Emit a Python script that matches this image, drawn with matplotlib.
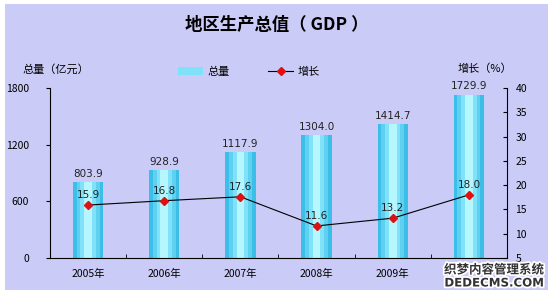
import numpy as np
import matplotlib.pyplot as plt
import matplotlib.patheffects as pe
from matplotlib.lines import Line2D
from matplotlib.patches import Rectangle

plt.rcParams['font.family'] = ['Noto Sans CJK SC', 'DejaVu Sans']

years = ["2005年", "2006年", "2007年", "2008年", "2009年", "2010年"]
gdp = [803.9, 928.9, 1117.9, 1304.0, 1414.7, 1729.9]
growth = [15.9, 16.8, 17.6, 11.6, 13.2, 18.0]

bg = "#cbcbf7"
fig = plt.figure(figsize=(5.53, 2.96), dpi=100)
fig.patch.set_facecolor("white")
fig.patches.append(Rectangle((5 / 553, 6 / 296), 543 / 553, 286 / 296,
                             transform=fig.transFigure, facecolor=bg,
                             edgecolor="none", zorder=-10))

ax = fig.add_axes([50 / 553, 38 / 296, 457 / 553, 170 / 296])
ax.set_facecolor("none")
x = np.arange(len(years))

# bars with a stripy cyan gradient
stripes = [(0.40, "#3bbfe8"), (0.30, "#5fd0f0"), (0.20, "#7fe2f8"), (0.10, "#b5f6ff")]
for w, c in stripes:
    ax.bar(x, gdp, width=w, color=c, edgecolor="none", zorder=2)

for xi, v in zip(x, gdp):
    ax.text(xi, v + 35, f"{v:.1f}", ha="center", va="bottom", fontsize=7.5,
            color="#222222", family="DejaVu Sans")

ax.set_xlim(-0.5, len(years) - 0.5)
ax.set_ylim(0, 1800)
ax.set_yticks([0, 600, 1200, 1800])
ax.set_xticks(x)
ax.set_xticklabels(years, fontsize=7.5)
# last year label sits under the watermark in the original
ax.get_xticklabels()[-1].set_visible(False)
ax.set_xticks(np.arange(-0.5, len(years), 1), minor=True)
ax.tick_params(axis="x", which="major", length=0, pad=8)
ax.tick_params(axis="x", which="minor", length=3, direction="in")
ax.tick_params(axis="y", length=3, direction="out", labelsize=7.5, pad=12)
for s in ["top", "right"]:
    ax.spines[s].set_visible(False)
ax.spines["left"].set_linewidth(0.8)
ax.spines["bottom"].set_linewidth(0.8)

ax2 = ax.twinx()
ax2.plot(x, growth, color="black", lw=0.8, marker="D", ms=4.5,
         mfc="#e01010", mec="#e01010", zorder=5)
for xi, v in zip(x, growth):
    ax2.text(xi, v + 1.0, f"{v:.1f}", ha="center", va="bottom", fontsize=7.5,
             color="#222222", family="DejaVu Sans")
ax2.set_ylim(5, 40)
ax2.set_yticks(np.arange(5, 41, 5))
ax2.tick_params(axis="y", length=3, direction="in", labelsize=7.5, pad=6)
for s in ["top", "left", "bottom"]:
    ax2.spines[s].set_visible(False)
ax2.spines["right"].set_linewidth(0.8)

fig.text(0.5, 0.915, "地区生产总值（ GDP ）", ha="center", va="center",
         fontsize=12.5, fontweight="bold")
fig.text(22 / 553, 1 - 69 / 296, "总量（亿元）", ha="left", va="center", fontsize=8)
fig.text(512 / 553, 1 - 69 / 296, "增长（%）", ha="right", va="center", fontsize=8)

handles = [Rectangle((0, 0), 1, 1, facecolor="#7fe2f8", edgecolor="none"),
           Line2D([], [], color="black", lw=0.8, marker="D", ms=4,
                  mfc="#e01010", mec="#e01010")]
fig.legend(handles, ["总量", "增长"], loc="center", bbox_to_anchor=(0.45, 1 - 72 / 296),
           ncol=2, frameon=False, fontsize=8, handlelength=2.2, columnspacing=3.5,
           handletextpad=0.4)

wm = fig.text(544 / 553, 1 - 270 / 296, "织梦内容管理系统", ha="right", va="center",
              fontsize=9, fontweight="bold", color="#333333")
wm.set_path_effects([pe.withStroke(linewidth=2.5, foreground="white")])
wm2 = fig.text(544 / 553, 1 - 283 / 296, "DEDECMS.COM", ha="right", va="center",
               fontsize=8.5, fontweight="bold", color="#333333", family="DejaVu Sans")
wm2.set_path_effects([pe.withStroke(linewidth=2.5, foreground="white")])

fig.savefig("out.png", dpi=100, facecolor=fig.get_facecolor())
